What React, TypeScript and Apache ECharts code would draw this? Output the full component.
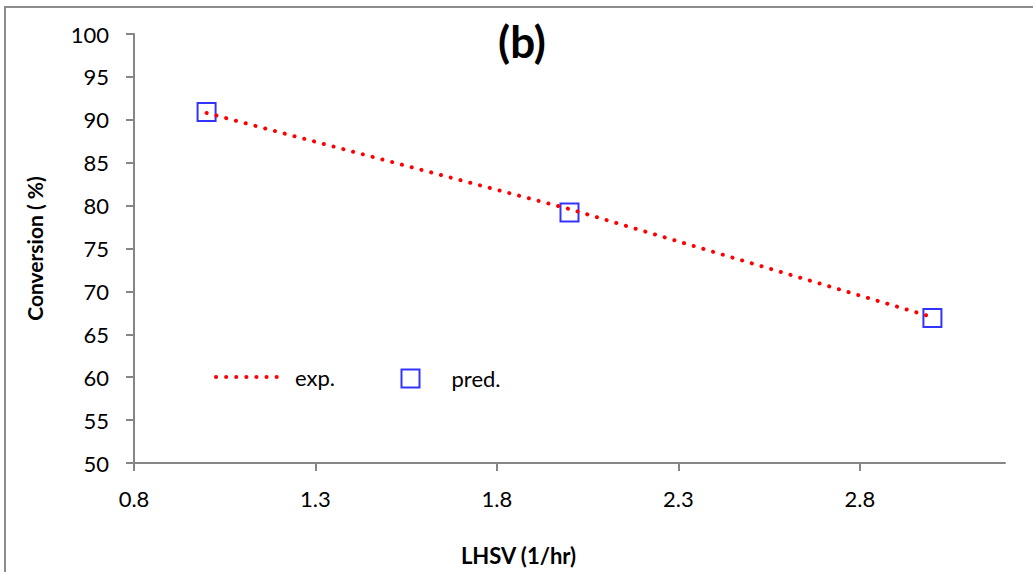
import React, { useEffect, useRef } from "react";
import * as echarts from "echarts";

const lhsv = [1, 2, 3];
const expValues = [90.8, 79.6, 67.0];
const predValues = [90.9, 79.2, 66.9];
const xTicks = [0.8, 1.3, 1.8, 2.3, 2.8];
const seriesNames = ["exp.", "pred."];
const titleText = "(b)";
const xName = "LHSV (1/hr)";
const yName = "Conversion ( %)";

const FONT = "Lato, 'Open Sans', sans-serif";
const AXIS_COLOR = "#868686";

export default function App() {
  const ref = useRef<HTMLDivElement>(null);
  useEffect(() => {
    if (!ref.current) return;
    const chart = echarts.init(ref.current, null, { renderer: "svg" });
    chart.setOption({
      animation: false,
      backgroundColor: "#fff",
      textStyle: { fontFamily: FONT },
      title: {
        text: titleText,
        left: 522,
        top: 19,
        textAlign: "center",
        padding: 0,
        textStyle: { fontFamily: FONT, fontSize: 44, fontWeight: "bold", color: "#000" },
      },
      graphic: [
        {
          type: "rect",
          shape: { x: 5, y: 7, width: 1100, height: 700 },
          style: { fill: "none", stroke: "#8c8c8c", lineWidth: 2 },
          silent: true,
        },
      ],
      legend: [
        {
          data: [seriesNames[0]],
          left: 214,
          top: 366,
          padding: 0,
          itemWidth: 70,
          itemHeight: 20,
          itemStyle: { opacity: 0 },
          lineStyle: { width: 4, color: "#ff0000", type: [0.1, 10], cap: "round" },
          textStyle: { fontFamily: FONT, fontSize: 22, color: "#000", padding: [0, 0, 0, 4] },
        },
        {
          data: [seriesNames[1]],
          left: 399,
          top: 367,
          padding: 0,
          itemWidth: 18,
          itemHeight: 18,
          textStyle: { fontFamily: FONT, fontSize: 22, color: "#000", padding: [0, 0, 0, 27] },
        },
      ],
      grid: { left: 134, right: 28, top: 34, bottom: 109, containLabel: false },
      xAxis: {
        type: "value",
        min: 0.8,
        max: 3.2,
        name: xName,
        nameLocation: "middle",
        nameGap: 81,
        nameTextStyle: { fontFamily: FONT, fontSize: 22, fontWeight: "bold", color: "#000", padding: [0, 102, 0, 0] },
        axisLine: { show: true, lineStyle: { color: AXIS_COLOR, width: 2 } },
        axisTick: { show: true, length: 8, inside: false, customValues: xTicks, lineStyle: { color: AXIS_COLOR, width: 2 } },
        axisLabel: {
          customValues: xTicks,
          margin: 24,
          fontFamily: FONT,
          fontSize: 22,
          color: "#000",
          formatter: (v: number) => v.toFixed(1),
        },
        splitLine: { show: false },
      },
      yAxis: {
        type: "value",
        min: 50,
        max: 100,
        interval: 5,
        name: yName,
        nameLocation: "middle",
        nameGap: 89,
        nameTextStyle: { fontFamily: FONT, fontSize: 21, fontWeight: "bold", color: "#000" },
        axisLine: { show: true, lineStyle: { color: AXIS_COLOR, width: 2 } },
        axisTick: { show: true, length: 8, lineStyle: { color: AXIS_COLOR, width: 2 } },
        axisLabel: { margin: 25, fontFamily: FONT, fontSize: 22, color: "#000" },
        splitLine: { show: false },
      },
      series: [
        {
          name: seriesNames[0],
          type: "line",
          data: lhsv.map((x, i) => [x, expValues[i]]),
          symbol: "none",
          showSymbol: false,
          itemStyle: { color: "#ff0000" },
          lineStyle: { color: "#ff0000", width: 4, type: [0.1, 10], cap: "round" },
          z: 3,
        },
        {
          name: seriesNames[1],
          type: "scatter",
          data: lhsv.map((x, i) => [x, predValues[i]]),
          symbol: "rect",
          symbolSize: 18,
          itemStyle: { color: "none", borderColor: "#0000ff", borderWidth: 2 },
          z: 2,
        },
      ],
    });
    return () => chart.dispose();
  }, []);
  return <div ref={ref} style={{ width: 1033, height: 572, position: "absolute", left: 0, top: 0 }} />;
}
